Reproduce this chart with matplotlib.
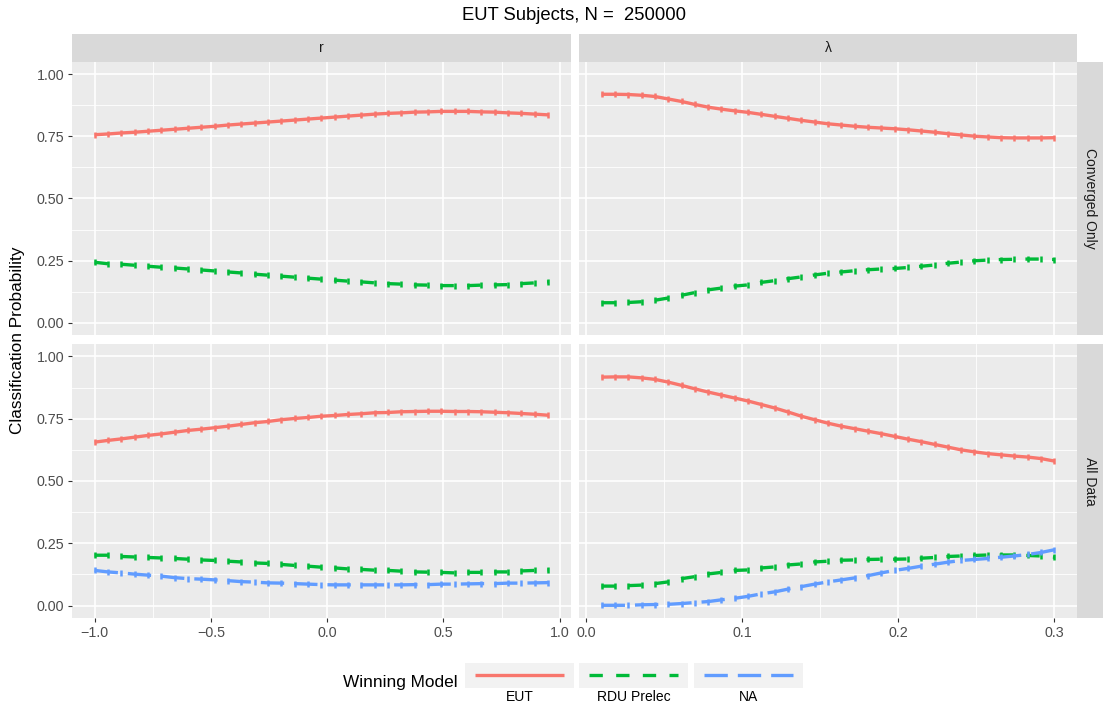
import numpy as np
import matplotlib
matplotlib.use('Agg')
import matplotlib.pyplot as plt
from matplotlib.patches import Rectangle
from matplotlib.lines import Line2D

plt.rcParams['font.family'] = ['Liberation Sans', 'DejaVu Sans']

# x grids of the two parameters
r_vals = np.linspace(-1.0, 0.95, 35)
lam_vals = np.linspace(0.01, 0.3, 35)

# converged only
eut_conv_r = [0.757, 0.760, 0.764, 0.767, 0.771, 0.775, 0.779, 0.783, 0.787, 0.791,
              0.796, 0.800, 0.804, 0.808, 0.812, 0.816, 0.820, 0.824, 0.828, 0.832,
              0.836, 0.840, 0.843, 0.845, 0.848, 0.849, 0.851, 0.851, 0.851, 0.849,
              0.848, 0.845, 0.843, 0.840, 0.837]
rdu_conv_r = [0.243, 0.237, 0.235, 0.231, 0.227, 0.223, 0.220, 0.216, 0.212, 0.208,
              0.204, 0.200, 0.195, 0.191, 0.187, 0.183, 0.179, 0.175, 0.171, 0.167,
              0.164, 0.160, 0.157, 0.155, 0.152, 0.151, 0.149, 0.149, 0.149, 0.151,
              0.152, 0.153, 0.157, 0.160, 0.164]
eut_conv_lam = [0.920, 0.920, 0.919, 0.916, 0.911, 0.901, 0.891, 0.879, 0.868, 0.860,
                0.853, 0.847, 0.839, 0.831, 0.823, 0.815, 0.808, 0.801, 0.796, 0.791,
                0.787, 0.784, 0.781, 0.777, 0.772, 0.767, 0.761, 0.756, 0.751, 0.748,
                0.745, 0.744, 0.744, 0.744, 0.745]
rdu_conv_lam = [0.080, 0.080, 0.081, 0.084, 0.090, 0.099, 0.110, 0.121, 0.132, 0.139,
                0.147, 0.152, 0.162, 0.169, 0.177, 0.184, 0.192, 0.199, 0.204, 0.209,
                0.213, 0.216, 0.218, 0.222, 0.227, 0.232, 0.239, 0.244, 0.249, 0.252,
                0.254, 0.255, 0.256, 0.256, 0.254]

# all data
eut_all_r = [0.656, 0.663, 0.669, 0.676, 0.683, 0.689, 0.696, 0.703, 0.708, 0.714,
             0.720, 0.727, 0.734, 0.739, 0.746, 0.751, 0.755, 0.760, 0.763, 0.767,
             0.770, 0.774, 0.775, 0.778, 0.779, 0.780, 0.780, 0.779, 0.779, 0.778,
             0.776, 0.774, 0.771, 0.768, 0.764]
rdu_all_r = [0.202, 0.202, 0.197, 0.195, 0.193, 0.191, 0.189, 0.186, 0.183, 0.181,
             0.178, 0.175, 0.171, 0.169, 0.165, 0.161, 0.158, 0.154, 0.151, 0.147,
             0.145, 0.142, 0.141, 0.138, 0.135, 0.134, 0.133, 0.131, 0.133, 0.133,
             0.135, 0.135, 0.139, 0.141, 0.143]
na_all_r = [0.141, 0.135, 0.131, 0.126, 0.122, 0.118, 0.112, 0.108, 0.106, 0.103,
            0.100, 0.096, 0.094, 0.091, 0.090, 0.088, 0.086, 0.084, 0.083, 0.083,
            0.083, 0.083, 0.083, 0.083, 0.084, 0.084, 0.086, 0.086, 0.087, 0.088,
            0.088, 0.090, 0.090, 0.091, 0.092]
eut_all_lam = [0.917, 0.918, 0.918, 0.914, 0.908, 0.897, 0.884, 0.870, 0.857, 0.845,
               0.833, 0.821, 0.807, 0.793, 0.777, 0.760, 0.746, 0.732, 0.720, 0.710,
               0.700, 0.690, 0.679, 0.668, 0.658, 0.647, 0.636, 0.625, 0.617, 0.610,
               0.605, 0.600, 0.596, 0.590, 0.580]
rdu_all_lam = [0.078, 0.078, 0.080, 0.082, 0.088, 0.095, 0.108, 0.116, 0.127, 0.133,
               0.141, 0.143, 0.151, 0.155, 0.163, 0.167, 0.175, 0.178, 0.182, 0.183,
               0.185, 0.186, 0.186, 0.187, 0.190, 0.193, 0.197, 0.199, 0.201, 0.203,
               0.203, 0.203, 0.201, 0.199, 0.194]
na_all_lam = [0.001, 0.001, 0.001, 0.003, 0.004, 0.005, 0.008, 0.012, 0.016, 0.023,
              0.029, 0.037, 0.047, 0.055, 0.066, 0.076, 0.086, 0.095, 0.103, 0.111,
              0.120, 0.131, 0.141, 0.149, 0.158, 0.166, 0.174, 0.181, 0.185, 0.189,
              0.194, 0.199, 0.205, 0.213, 0.224]

models = ['EUT', 'RDU Prelec', 'NA']
colors = {'EUT': '#F8766D', 'RDU Prelec': '#00BA38', 'NA': '#619CFF'}
styles = {'EUT': '-', 'RDU Prelec': (0, (4, 4)), 'NA': (0, (7, 3))}
col_names = ['r', 'λ']
row_names = ['Converged Only', 'All Data']

panels = {
    (0, 0): {'EUT': eut_conv_r, 'RDU Prelec': rdu_conv_r},
    (0, 1): {'EUT': eut_conv_lam, 'RDU Prelec': rdu_conv_lam},
    (1, 0): {'EUT': eut_all_r, 'RDU Prelec': rdu_all_r, 'NA': na_all_r},
    (1, 1): {'EUT': eut_all_lam, 'RDU Prelec': rdu_all_lam, 'NA': na_all_lam},
}

W, H = 1103, 708
fig = plt.figure(figsize=(W / 100, H / 100), dpi=100)

col_px = [(72, 570.7), (579, 1077)]
row_px = [(62, 335), (344, 618)]


def px_box(x0, x1, y0, y1):
    return [x0 / W, 1 - y1 / H, (x1 - x0) / W, (y1 - y0) / H]


LW = 2.4
for (i, j), series in panels.items():
    ax = fig.add_axes(px_box(col_px[j][0], col_px[j][1], row_px[i][0], row_px[i][1]))
    ax.set_facecolor('#EBEBEB')
    for s in ax.spines.values():
        s.set_visible(False)
    x = r_vals if j == 0 else lam_vals
    for m in models:
        if m not in series:
            continue
        ax.plot(x, series[m], color=colors[m], lw=LW, ls=styles[m],
                dash_capstyle='butt', solid_capstyle='butt', zorder=3)
        ax.plot(x, series[m], color=colors[m], ls='none', marker='|',
                ms=4.5, mew=1.8, zorder=3)
    ax.set_ylim(-0.05, 1.05)
    ax.set_yticks([0, 0.25, 0.5, 0.75, 1.0])
    ax.set_yticks([0.125, 0.375, 0.625, 0.875], minor=True)
    if j == 0:
        ax.set_xlim(-1.0975, 1.0475)
        ax.set_xticks([-1.0, -0.5, 0.0, 0.5, 1.0])
        ax.set_xticks([-0.75, -0.25, 0.25, 0.75], minor=True)
    else:
        ax.set_xlim(-0.0045, 0.3145)
        ax.set_xticks([0.0, 0.1, 0.2, 0.3])
        ax.set_xticks([0.05, 0.15, 0.25], minor=True)
    ax.grid(which='major', color='white', lw=1.2, zorder=1)
    ax.grid(which='minor', color='white', lw=0.6, zorder=1)
    ax.set_axisbelow(True)
    ax.tick_params(which='major', length=3.2, width=0.8, color='#333333',
                   labelcolor='#4D4D4D', labelsize=10.3, pad=2.5)
    ax.tick_params(which='minor', length=0)
    if j == 0:
        ax.set_yticklabels(['0.00', '0.25', '0.50', '0.75', '1.00'])
    else:
        ax.tick_params(axis='y', which='major', length=0, labelleft=False)
    if i == 0:
        ax.tick_params(axis='x', which='major', length=0, labelbottom=False)
    else:
        if j == 0:
            ax.set_xticklabels(['\u22121.0', '\u22120.5', '0.0', '0.5', '1.0'])
        else:
            ax.set_xticklabels(['0.0', '0.1', '0.2', '0.3'])

# strips
for j in range(2):
    sa = fig.add_axes(px_box(col_px[j][0], col_px[j][1], 34, 62))
    sa.set_facecolor('#D9D9D9')
    sa.set_xticks([]); sa.set_yticks([])
    for s in sa.spines.values():
        s.set_visible(False)
    sa.text(0.5, 0.5, col_names[j], ha='center', va='center', fontsize=10,
            color='#1A1A1A', transform=sa.transAxes)
for i in range(2):
    sa = fig.add_axes(px_box(1077, 1103, row_px[i][0], row_px[i][1]))
    sa.set_facecolor('#D9D9D9')
    sa.set_xticks([]); sa.set_yticks([])
    for s in sa.spines.values():
        s.set_visible(False)
    sa.text(0.5, 0.5, row_names[i], ha='center', va='center', fontsize=10,
            color='#1A1A1A', rotation=-90, transform=sa.transAxes)

fig.text(574.5 / W, 1 - 15 / H, 'EUT Subjects, N =  250000', ha='center',
         va='center', fontsize=13.3, color='black')
fig.text(18 / W, 1 - 340 / H, 'Classification Probability', ha='center',
         va='center', rotation=90, fontsize=12.4, color='black')

# legend at the bottom, drawn in pixel space
lg = fig.add_axes([0, 0, 1, 1])
lg.set_xlim(0, W)
lg.set_ylim(H, 0)
lg.axis('off')
lg.text(343, 683, 'Winning Model', ha='left', va='center', fontsize=12.4, color='black')
key_x = [465, 579, 694]
for k, m in enumerate(models):
    x0 = key_x[k]
    lg.add_patch(Rectangle((x0, 662.5), 109, 25, facecolor='#F2F2F2', edgecolor='none'))
    lg.add_line(Line2D([x0 + 10, x0 + 99], [675, 675], color=colors[m], lw=LW,
                       ls=styles[m], dash_capstyle='butt', solid_capstyle='butt'))
    lg.text(x0 + 54.5, 697, m, ha='center', va='center', fontsize=10, color='black')

fig.savefig('out.png', dpi=100)
